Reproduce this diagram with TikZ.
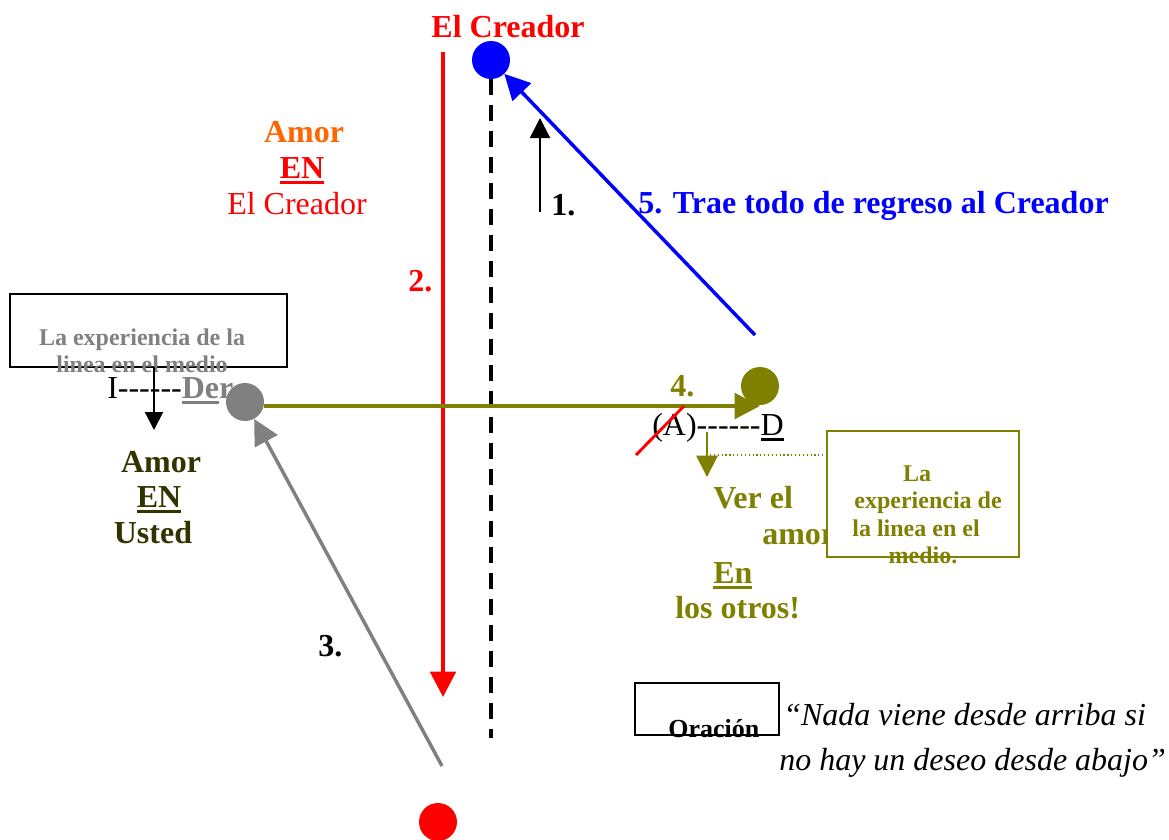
\documentclass[tikz,border=0pt]{standalone}
\usepackage{fontspec}
\setmainfont{Liberation Serif}
\newfontfamily\plainserif{Liberation Serif}
\usetikzlibrary{arrows.meta}
\definecolor{cred}{HTML}{FF0000}
\definecolor{cblue}{HTML}{0000FF}
\definecolor{corange}{HTML}{FF6600}
\definecolor{cgray}{HTML}{808080}
\definecolor{colive}{HTML}{808000}
\definecolor{cdark}{HTML}{333300}
\newsavebox\ulbox
\newcommand\myul[1]{\sbox\ulbox{#1}\rlap{\rule[-4.2pt]{\wd\ulbox}{2pt}}\usebox\ulbox}
\begin{document}
\begin{tikzpicture}[x=0.75pt,y=-0.75pt,
  dot/.style={circle,minimum size=28.5pt,inner sep=0pt},
  big/.style={inner sep=0pt,anchor=base west,font=\fontsize{24}{28}\selectfont},
  bigc/.style={inner sep=0pt,anchor=base,font=\fontsize{24}{28}\selectfont},
  smallc/.style={inner sep=0pt,anchor=base,font=\fontsize{18}{21}\selectfont\bfseries},
  frame/.style={draw,line width=1.5pt,inner sep=0pt}]
\useasboundingbox (0,0) rectangle (1169,839);

% top title
\node[bigc,text=cred,font=\fontsize{24}{28}\selectfont\bfseries] (title) at (508,37) {El Creador};

% Amor EN El Creador
\node[bigc,text=corange,font=\fontsize{24}{28}\selectfont\bfseries] (a1) at (304,142) {Amor};
\node[bigc,text=cred,font=\fontsize{24}{28}\selectfont\bfseries] (a2) at (302,178) {\myul{EN}};
\node[bigc,text=cred] (a3) at (297,214) {El Creador};

% coordinates
\coordinate (rtop) at (443,52);
\coordinate (rbot) at (443,697);
\coordinate (dashend) at (491,738);
\coordinate (bstart) at (755,335);
\coordinate (gstart) at (442,766);
\coordinate (one1) at (540,212);
\coordinate (one2) at (540,118);

% dots
\node[dot,fill=cblue] (creator) at (491,60) {};
\node[dot,fill=cred] (reddot) at (438,822) {};

% dashed axis
\draw[line width=3pt,dash pattern=on 12pt off 7.5pt] (creator.south) -- (dashend);

% red line 2
\draw[cred,line width=3pt,-{Triangle[width=19pt,length=19pt]}] (rtop) -- (rbot);
\node[big,text=cred,font=\fontsize{24}{28}\selectfont\bfseries] (n2) at (408,291) {2.};

% arrow 1
\draw[line width=1.5pt,-{Triangle[width=15pt,length=15pt]}] (one1) -- (one2);
\node[big,font=\fontsize{24}{28}\selectfont\bfseries] (n1) at (551,215) {1.};

% blue arrow 5
\draw[cblue,line width=2.6pt,-{Triangle[width=19pt,length=19pt]}] (bstart) -- (creator);
\node[big,text=cblue,font=\fontsize{24}{28}\selectfont\bfseries] (n5) at (638,213) {5. Trae todo de regreso al Creador};

% box 1
\node[frame,minimum width=207.75pt,minimum height=54.75pt] (box1) at (148.5,330.5) {};
\node[smallc,text=cgray] (b1a) at (142,345) {La experiencia de la};
\node[smallc,text=cgray] (b1b) at (142,372) {linea en el medio};

% I------Der
\node[big] (ider) at (107,398) {{\plainserif I------}{\color{cgray}\bfseries\myul{De}r}};
\coordinate (ia) at (154,367);
\coordinate (ib) at (154,430);
\draw[line width=1.5pt,-{Triangle[width=13.5pt,length=13.5pt]}] (ia) -- (ib);

% Amor EN Usted
\node[bigc,text=cdark,font=\fontsize{24}{28}\selectfont\bfseries] (u1) at (161,472) {Amor};
\node[bigc,text=cdark,font=\fontsize{24}{28}\selectfont\bfseries] (u2) at (159,507) {\myul{EN}};
\node[bigc,text=cdark,font=\fontsize{24}{28}\selectfont\bfseries] (u3) at (153,543) {Usted};

% gray dot & olive dot
\node[dot,fill=cgray] (gdot) at (245,402) {};
\node[dot,fill=colive] (odot) at (760,386) {};
\coordinate (hstart) at (245,406);
\coordinate (hend) at (760,406);
\draw[colive,line width=3pt,-{Triangle[width=19pt,length=19pt]}] (gdot.east |- hstart) -- (hend);

% gray arrow 3
\draw[cgray,line width=2.6pt,-{Triangle[width=19pt,length=19pt]}] (gstart) -- (gdot);
\node[big,font=\fontsize{24}{28}\selectfont\bfseries] (n3) at (318,656) {3.};

% 4.
\node[big,text=colive,font=\fontsize{24}{28}\selectfont\bfseries] (n4) at (670,396) {4.};
\node[big] (ad) at (652,435) {{\plainserif (A)------}\myul{D}};
\coordinate (s1) at (636,455);
\coordinate (s2) at (684,406);
\draw[cred,line width=2.2pt] (s1) -- (s2);
\coordinate (oa) at (707,432);
\coordinate (ob) at (707,477);
\draw[colive,line width=1.5pt,-{Triangle[width=16pt,length=16pt]}] (oa) -- (ob);
\coordinate (d1) at (710,455);
\coordinate (d2) at (827,455);
\draw[colive,line width=0.9pt,dotted] (d1) -- (d2);

% Ver el amor En los otros
\node[big,text=colive,font=\fontsize{24}{28}\selectfont\bfseries] (v1) at (713,508) {Ver el};
\node[big,text=colive,font=\fontsize{24}{28}\selectfont\bfseries] (v2) at (762,544) {amor};
\node[big,text=colive,font=\fontsize{24}{28}\selectfont\bfseries] (v3) at (713,583) {\myul{En}};
\node[big,text=colive,font=\fontsize{24}{28}\selectfont\bfseries] (v4) at (675,618) {los otros!};

% box 2
\node[frame,draw=colive,fill=white,minimum width=144pt,minimum height=94.5pt] (box2) at (923,494) {};
\node[smallc,text=colive] (b2a) at (917,481) {La};
\node[smallc,text=colive] (b2b) at (928,508) {experiencia de};
\node[smallc,text=colive] (b2c) at (916,536) {la linea en el};
\node[smallc,text=colive] (b2d) at (923,563) {medio.};

% Oracion
\node[inner sep=0pt,anchor=base west,font=\fontsize{19.5}{22}\selectfont\bfseries] (or) at (668,737) {Oración};
\node[frame,minimum width=108pt,minimum height=39pt] (box3) at (707,709) {};
\node[big,font=\fontsize{24}{28}\selectfont\itshape] (q1) at (783,725) {“Nada viene desde arriba si};
\node[big,font=\fontsize{24}{28}\selectfont\itshape] (q2) at (779,770) {no hay un deseo desde abajo”};
\end{tikzpicture}
\end{document}
